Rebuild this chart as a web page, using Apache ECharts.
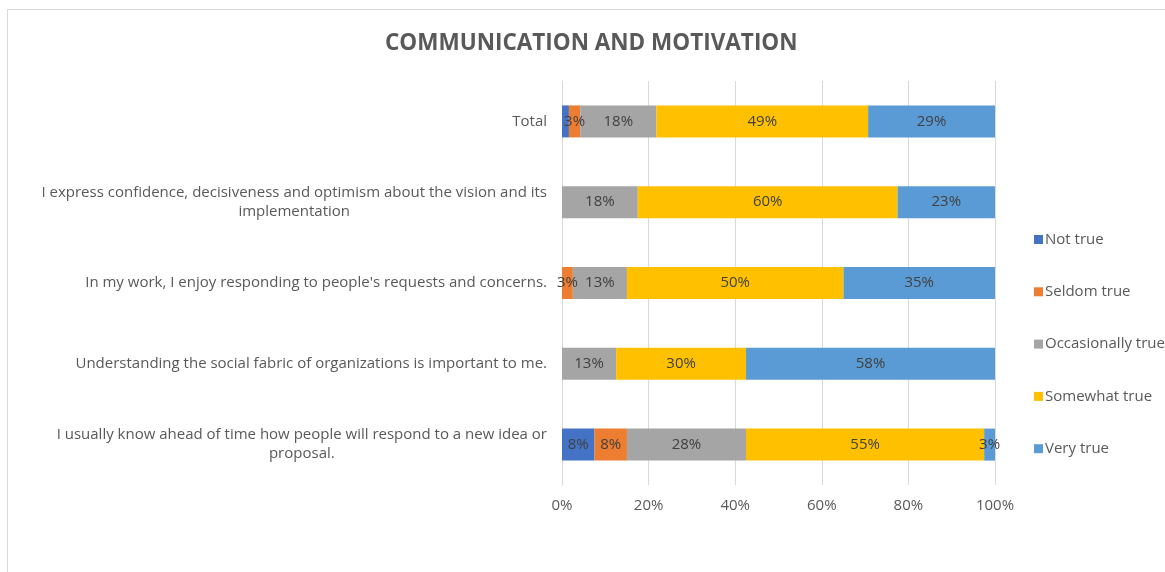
<!DOCTYPE html>
<html>
<head>
<meta charset="utf-8">
<script src="https://cdn.jsdelivr.net/npm/echarts@6/dist/echarts.min.js"></script>
<style>
  html, body { margin: 0; padding: 0; background: #ffffff; }
  #frame { position: absolute; left: 7px; top: 9px; width: 1300px; height: 700px;
           border-top: 1px solid #d9d9d9; border-left: 1px solid #d9d9d9; }
  #chart { position: absolute; left: 0; top: 0; width: 1165px; height: 572px; }
</style>
</head>
<body>
<div id="frame"></div>
<div id="chart"></div>
<script>
// ---- data ----
const title = 'COMMUNICATION AND MOTIVATION';
const categories = [
  'Total',
  'I express confidence, decisiveness and optimism about the vision and its\nimplementation',
  "In my work, I enjoy responding to people's requests and concerns.",
  'Understanding the social fabric of organizations is important to me.',
  'I usually know ahead of time how people will respond to a new idea or\nproposal.'
];
const seriesNames = ['Not true', 'Seldom true', 'Occasionally true', 'Somewhat true', 'Very true'];
const notTrue      = [1.6, 0,    0,    0,    7.5];
const seldomTrue   = [2.6, 0,    2.5,  0,    7.5];
const occasionally = [17.6, 17.5, 12.5, 12.5, 27.5];
const somewhatTrue = [48.9, 60,   50,   30,   55];
const veryTrue     = [29.3, 22.5, 35,   57.5, 2.5];
const xTicks = [0, 20, 40, 60, 80, 100];

const seriesData = [notTrue, seldomTrue, occasionally, somewhatTrue, veryTrue];
const colors = ['#4472C4', '#ED7D31', '#A5A5A5', '#FFC000', '#5B9BD5'];
const FONT = 'Open Sans';

const chart = echarts.init(document.getElementById('chart'), null, { renderer: 'canvas' });
chart.setOption({
  backgroundColor: 'transparent',
  animation: false,
  title: {
    text: title,
    left: 380,
    top: 27,
    textStyle: { fontFamily: FONT, fontSize: 22.5, fontWeight: 'bold', color: '#595959' }
  },
  legend: {
    orient: 'vertical',
    left: 1029,
    top: 227,
    itemWidth: 9,
    itemHeight: 9,
    itemGap: 37.3,
    icon: 'rect',
    data: seriesNames,
    textStyle: { fontFamily: FONT, fontSize: 15, lineHeight: 15, color: '#595959', padding: [0, 0, 0, -3] }
  },
  grid: { left: 562, right: 170, top: 81, bottom: 87, containLabel: false },
  xAxis: {
    type: 'value',
    min: xTicks[0],
    max: xTicks[xTicks.length - 1],
    interval: 20,
    axisLine: { show: false },
    axisTick: { show: false },
    splitLine: { show: true, lineStyle: { color: '#d9d9d9', width: 1 } },
    axisLabel: { formatter: '{value}%', margin: 13, fontFamily: FONT, fontSize: 15, color: '#595959' }
  },
  yAxis: {
    type: 'category',
    inverse: true,
    data: categories,
    axisLine: { show: true, lineStyle: { color: '#d9d9d9' } },
    axisTick: { show: false },
    axisLabel: {
      margin: 15,
      fontFamily: FONT,
      fontSize: 15,
      color: '#595959',
      lineHeight: 19,
      formatter: function (v) {
        return v.split('\n').map(function (l) { return '{c|' + l + '}'; }).join('\n');
      },
      rich: { c: { align: 'center', fontFamily: FONT, fontSize: 15, color: '#595959', lineHeight: 19 } }
    }
  },
  series: seriesNames.map(function (name, i) {
    return {
      name: name,
      type: 'bar',
      stack: 'total',
      barWidth: 32,
      data: seriesData[i],
      itemStyle: { color: colors[i] },
      label: {
        show: true,
        position: 'inside',
        fontFamily: FONT,
        fontSize: 15,
        color: '#404040',
        formatter: function (p) { return p.value < 2 ? '' : Math.round(p.value) + '%'; }
      }
    };
  })
});
</script>
</body>
</html>
